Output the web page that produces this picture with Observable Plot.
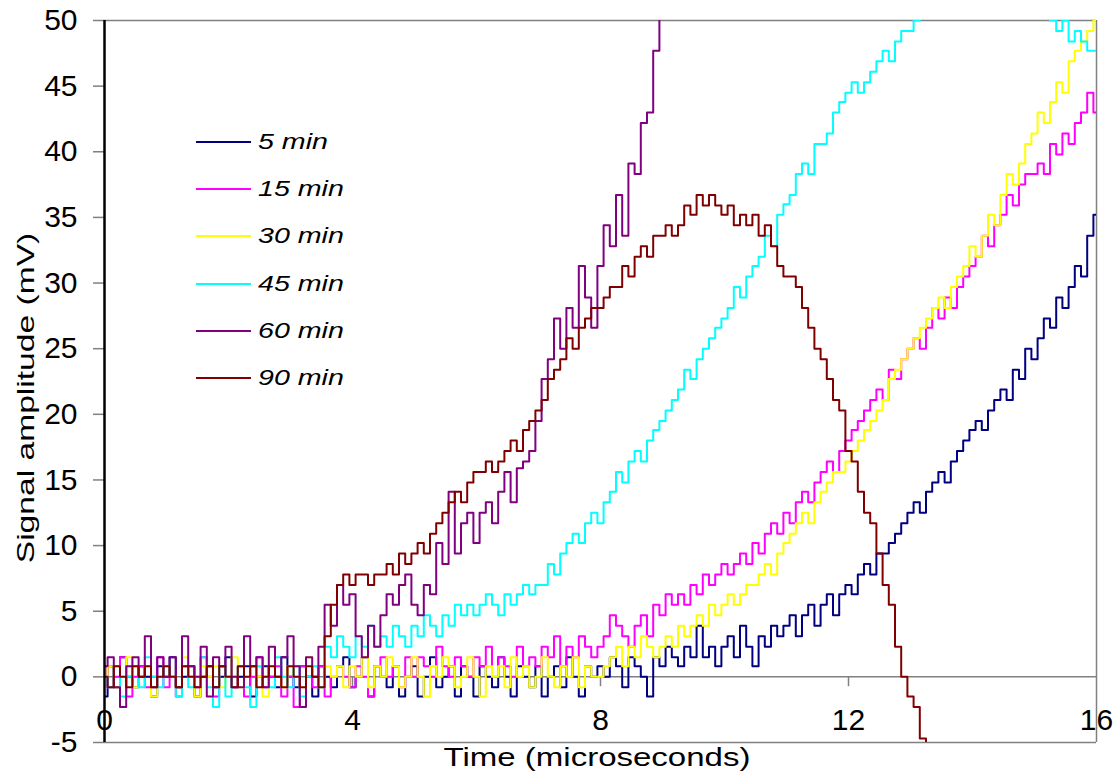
<!DOCTYPE html>
<html>
<head>
<meta charset="utf-8">
<script src="https://cdn.jsdelivr.net/npm/d3@7"></script>
<script src="https://cdn.jsdelivr.net/npm/@observablehq/plot@0.6"></script>
<style>
  html, body { margin: 0; padding: 0; background: #fff; }
  #wrap { position: relative; width: 1118px; height: 775px; font-family: "Liberation Sans", Arial, sans-serif; color: #000; }
  #wrap svg { position: absolute; left: 0; top: 0; }
  .ov { position: absolute; white-space: nowrap; line-height: 1; }
  .legline { position: absolute; height: 2px; }
</style>
</head>
<body>
<div id="wrap"></div>
<script>
// ---- data (time step 0.1 microseconds starting at 0) ----
const dt = 0.1;
const seriesNames = ["5 min", "15 min", "30 min", "45 min", "60 min", "90 min"];
const seriesColors = ["#000080", "#ff00ff", "#ffff00", "#00ffff", "#800080", "#800000"];
const xTicks = [0, 4, 8, 12, 16];
const yTicks = [-5, 0, 5, 10, 15, 20, 25, 30, 35, 40, 45, 50];

const min5 = [-1.5,0.8,-0.8,1.5,0,-0.8,0.8,0,-1.5,0.8,
 0,1.5,-0.8,0,0.8,-1.5,0,0.8,-0.8,0,
 1.5,-0.8,0,0.8,-1.5,0,0.8,0,-0.8,1.5,
 0,-0.8,0.8,0,-1.5,0.8,0,-0.8,0.8,1.5,
 -0.8,0,1.5,-1.5,0.8,0,-0.8,0.8,-1.5,0,
 0.8,-1.5,0,1.5,-0.8,0,0.8,-1.5,0.8,0,
 -1.5,0.8,0,-0.8,1.5,0,-1.5,0.8,0,-0.8,
 0.8,-1.5,0,0.8,-0.8,1.5,0,-1.5,0.8,0,
 0.8,0,1.5,0.8,-0.8,1.5,0.8,0,-1.5,1.5,
 0.8,2.3,1.5,0.8,2.3,1.5,3.9,1.5,2.3,0.8,
 2.3,3.1,1.5,3.9,2.3,0.8,3.1,2.3,3.9,3.1,
 3.9,4.7,3.1,4.7,5.5,3.9,5.5,6.3,4.7,6.3,
 7.0,6.3,7.8,8.6,7.8,9.4,9.4,10.2,10.9,11.7,
 12.5,13.3,12.5,14.1,14.8,15.6,14.8,16.4,17.2,18.0,
 18.8,19.5,18.8,20.3,21.1,21.9,21.1,23.4,22.7,25.0,
 24.2,25.8,27.3,26.6,28.9,28.1,29.7,31.3,30.5,33.6,35.2];

const min15 = [0.8,-0.8,0,1.5,-1.5,0,0.8,-0.8,0,1.5,
 -0.8,0,-1.5,0.8,0,-0.8,1.5,0,-1.5,0.8,
 0,-0.8,0.8,-1.5,0,1.5,-0.8,0,0.8,-1.5,
 0,-2.3,0.8,0,-0.8,0.8,-1.5,0,0.8,0,
 -0.8,0.8,0,-1.5,0.8,1.5,0,0.8,-0.8,1.5,
 0,1.5,0.8,0,2.3,0.8,0,1.5,0.8,0,
 1.5,0.8,2.3,0,1.5,0.8,0,2.3,0.8,1.5,
 0.8,2.3,1.5,3.1,0.8,2.3,1.5,3.1,2.3,1.5,
 2.3,3.1,4.7,3.9,3.1,2.3,3.9,4.7,3.1,5.5,
 4.7,6.3,5.5,6.3,5.5,7.0,6.3,7.8,7.0,7.8,
 8.6,7.8,8.6,9.4,8.6,10.2,9.4,10.9,11.7,10.9,
 12.5,11.7,13.3,14.1,13.3,14.8,15.6,16.4,15.6,17.2,
 18.0,18.8,19.5,20.3,21.1,21.9,21.1,23.4,22.7,24.2,
 25.0,25.8,25.0,26.6,28.1,27.3,28.9,28.1,29.7,30.5,
 31.3,32.0,33.6,32.8,34.4,35.2,36.7,35.9,37.5,38.3,
 38.3,39.1,38.3,40.6,39.8,41.4,40.6,42.2,43.0,44.5,43.0];

const min30 = [0,0.8,-0.8,0,1.5,-0.8,0,0.8,-1.5,0,
 0.8,0,-0.8,1.5,0,-1.5,0.8,0,0.8,-0.8,
 0,1.5,-0.8,0,0.8,0,-1.5,0.8,0,-0.8,
 0.8,0,-0.8,1.5,0,-0.8,0.8,0,0.8,-0.8,
 0.8,0,1.5,-0.8,0.8,0,1.5,0.8,-0.8,0,
 1.5,0,-1.5,0.8,0,1.5,0.8,-0.8,0,1.5,
 0,-1.5,0.8,0,0.8,-0.8,1.5,0,0.8,-0.8,
 0,1.5,0,-0.8,0.8,0,1.5,-0.8,0.8,0,
 0,0.8,1.5,2.3,0.8,2.3,1.5,3.1,2.3,1.5,
 2.3,3.1,2.3,3.9,3.1,3.9,4.7,3.9,5.5,4.7,
 5.5,6.3,5.5,6.3,7.0,7.0,7.8,8.6,7.8,9.4,
 10.2,10.9,11.7,12.5,11.7,13.3,14.1,14.8,15.6,15.6,
 16.4,17.2,18.0,18.8,19.5,20.3,21.1,22.7,23.4,24.2,
 25.0,25.8,26.6,27.3,28.1,28.9,28.1,29.7,30.5,31.3,
 32.8,32.0,33.6,35.2,34.4,36.7,38.3,37.5,39.1,40.6,
 41.4,43.0,42.2,43.8,45.3,44.5,46.9,47.7,48.4,49.2,50.0];

const min45 = [0,-0.8,0.8,-1.5,0,0.8,-0.8,1.5,0,-0.8,
 0.8,0,-1.5,0.8,-0.8,0,1.5,-0.8,-2.3,0.8,
 -1.5,0,0.8,-0.8,-2.3,0.8,0,-0.8,1.5,0,
 -0.8,0.8,-1.5,0,0.8,-0.8,2.3,1.5,3.1,2.3,
 1.5,3.1,2.3,3.9,2.3,3.1,2.3,3.9,3.1,2.3,
 3.9,3.1,4.7,3.9,3.1,4.7,3.9,5.5,4.7,5.5,
 4.7,5.5,6.3,5.5,4.7,6.3,5.5,6.3,7.0,6.3,
 7.0,7.0,8.6,7.8,9.4,10.2,10.9,10.2,11.7,12.5,
 11.7,13.3,14.1,15.6,14.8,16.4,17.2,16.4,18.0,18.8,
 19.5,20.3,21.1,21.9,23.4,22.7,24.2,25.0,25.8,26.6,
 27.3,28.1,29.7,28.9,30.5,31.3,32.0,33.6,32.8,35.2,
 36.0,36.7,38.3,39.1,38.3,40.6,40.6,41.4,43.0,43.8,
 44.5,45.3,44.5,45.3,46.1,46.9,47.7,46.9,48.4,49.2,
 49.2,50.0,51.6,52.3,53.1,53.9,54.7,55.5,55.5,56.2,
 56.2,57.0,57.0,57.8,57.0,57.8,57.0,56.2,55.5,54.7,
 53.9,52.3,51.6,50.0,49.2,50.0,48.4,49.2,48.4,47.7,47.7];

const min60 = [0.8,1.5,-0.8,-2.3,0.8,1.5,0,3.1,-0.8,1.5,
 0,1.5,-0.8,3.1,0.8,0,2.3,-1.5,1.5,0.8,
 2.3,0,-0.8,3.1,0.8,1.5,-0.8,2.3,0,1.5,
 3.1,0.8,-2.3,1.5,0,2.3,5.5,3.9,7.0,5.5,
 6.3,3.1,1.5,3.9,2.3,4.7,6.3,5.5,7.0,7.8,
 5.5,4.7,7.0,6.3,10.2,8.6,14.1,9.4,11.7,12.5,
 10.2,12.5,13.3,11.7,14.1,15.6,13.3,15.9,16.4,17.2,
 19.5,22.7,24.2,27.3,25.0,28.1,26.6,31.3,28.9,26.6,
 31.3,34.4,32.8,36.7,33.6,39.1,38.3,42.2,43.0,47.7,
 51.6];

const min90 = [0,-0.8,0.8,0,-0.8,0.8,0,0.8,-0.8,0,
 0.8,0,-0.8,0.8,0,-0.8,0,0.8,-0.8,0.8,
 0,-0.8,0.8,0,0.8,-0.8,0,0.8,0,-0.8,
 0.8,0,-0.8,0.8,0,-0.8,3.1,5.5,7.0,7.8,
 7.0,7.8,7.8,7.0,7.8,7.8,8.6,7.8,9.4,8.6,
 9.4,10.2,9.4,10.9,11.7,12.5,13.3,14.1,13.3,14.8,
 15.6,15.6,16.4,15.6,16.4,17.2,18.0,17.2,18.8,19.5,
 20.3,21.1,22.7,23.4,24.2,25.8,25.0,26.6,27.3,28.1,
 28.1,28.9,29.7,29.7,31.3,30.5,32.0,32.8,32.0,33.6,
 33.6,34.4,33.6,34.4,35.9,35.2,36.7,35.9,36.7,35.9,
 35.2,35.9,34.4,35.2,34.4,35.2,33.6,34.4,32.8,31.3,
 30.5,30.5,29.7,28.1,26.6,25.0,24.2,22.7,21.1,20.3,
 17.2,16.4,14.1,12.5,11.7,9.4,7.0,5.5,2.3,0.0,
 -1.5,-2.3,-4.7,-7.0];

const seriesValues = [min5, min15, min30, min45, min60, min90];

// ---- chart ----
const grey = "#808080";
const lineMarks = seriesValues.map((vals, k) =>
  Plot.line(vals, {
    x: (d, i) => i * dt,
    y: d => d,
    stroke: seriesColors[k],
    strokeWidth: 2,
    curve: "step",
    clip: true
  })
);

const chart = Plot.plot({
  width: 1118,
  height: 775,
  marginLeft: 104,
  marginRight: 22,
  marginTop: 20,
  marginBottom: 33,
  style: { fontFamily: "Liberation Sans, Arial, sans-serif", background: "transparent", color: "#000" },
  x: { domain: [0, 16], axis: null },
  y: { domain: [-5, 50], axis: null },
  marks: [
    Plot.ruleY([50, -5], { stroke: grey, strokeWidth: 1.5 }),
    Plot.ruleX([16], { stroke: grey, strokeWidth: 1.5 }),
    Plot.ruleY([0], { stroke: grey, strokeWidth: 1.5 }),
    Plot.ruleX(xTicks.slice(1, -1), { x: d => d, y1: 0, y2: -0.75, stroke: grey, strokeWidth: 1.5 }),
    ...lineMarks,
    Plot.axisY(yTicks, {
      anchor: "left",
      tickSize: 11,
      tickPadding: 16,
      tickFormat: d => String(d),
      stroke: grey,
      strokeWidth: 1.5,
      fill: "#000",
      fontSize: 30,
      label: null
    }),
    Plot.text(xTicks, {
      x: d => d,
      y: 0,
      dy: 44,
      text: d => String(d),
      fontSize: 30,
      fill: "#000"
    }),
    Plot.ruleX([0], { stroke: "#000", strokeWidth: 2.5 })
  ]
});

const wrap = document.getElementById("wrap");
wrap.appendChild(chart);

// axis titles (stretched text like the original)
const xt = document.createElement("div");
xt.className = "ov";
xt.textContent = "Time (microseconds)";
Object.assign(xt.style, { left: "597px", top: "757px", fontSize: "25px", transform: "translate(-50%,-50%) scaleX(1.32)" });
wrap.appendChild(xt);

const yt = document.createElement("div");
yt.className = "ov";
yt.textContent = "Signal amplitude (mV)";
Object.assign(yt.style, { left: "26px", top: "398px", fontSize: "24px", transform: "translate(-50%,-50%) rotate(-90deg) scaleX(1.4)" });
wrap.appendChild(yt);

// legend
seriesNames.forEach((name, k) => {
  const cy = 142 + k * 47.2;
  const ln = document.createElement("div");
  ln.className = "legline";
  Object.assign(ln.style, { left: "196px", width: "55px", top: (cy - 1) + "px", background: seriesColors[k] });
  wrap.appendChild(ln);
  const tx = document.createElement("div");
  tx.className = "ov";
  tx.textContent = name;
  Object.assign(tx.style, { left: "258px", top: cy + "px", fontSize: "22px", fontStyle: "italic", transformOrigin: "0 50%", transform: "translateY(-50%) scaleX(1.3)" });
  wrap.appendChild(tx);
});
</script>
</body>
</html>
